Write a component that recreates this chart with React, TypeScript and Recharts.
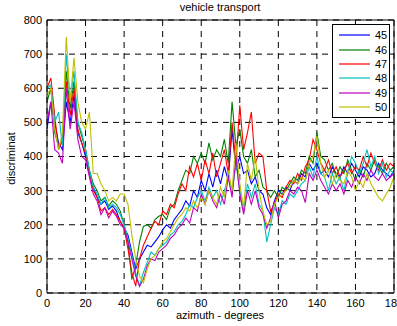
import React from 'react';
import { LineChart, Line, XAxis, YAxis, CartesianGrid, Legend } from 'recharts';

// azimuth in degrees, sampled every 2 degrees
const azimuth = [
  0, 2, 4, 6, 8, 10, 12, 14, 16, 18,
  20, 22, 24, 26, 28, 30, 32, 34, 36, 38,
  40, 42, 44, 46, 48, 50, 52, 54, 56, 58,
  60, 62, 64, 66, 68, 70, 72, 74, 76, 78,
  80, 82, 84, 86, 88, 90, 92, 94, 96, 98,
  100, 102, 104, 106, 108, 110, 112, 114, 116, 118,
  120, 122, 124, 126, 128, 130, 132, 134, 136, 138,
  140, 142, 144, 146, 148, 150, 152, 154, 156, 158,
  160, 162, 164, 166, 168, 170, 172, 174, 176, 178,
  180,
];

const s45 = [
  480, 560, 500, 440, 420, 560, 500, 580, 470, 440,
  400, 350, 310, 280, 260, 270, 245, 255, 240, 210,
  190, 170, 120, 70, 100, 120, 140, 135, 150, 165,
  185, 200, 190, 215, 230, 245, 270, 255, 300, 280,
  330, 300, 350, 310, 360, 320, 370, 330, 480, 360,
  400, 350, 360, 320, 340, 300, 290, 250, 230, 270,
  300, 290, 310, 300, 330, 320, 350, 340, 380, 360,
  380, 350, 360, 340, 370, 350, 340, 370, 350, 380,
  360, 340, 370, 360, 340, 350, 380, 360, 350, 340,
  360,
];

const s46 = [
  560, 600, 470, 430, 440, 650, 540, 620, 500, 460,
  420, 360, 320, 300, 270, 280, 255, 270, 260, 240,
  200, 150, 40, 80, 150, 195, 200, 190, 215, 225,
  230, 215, 250, 260, 300, 330, 360, 350, 400, 380,
  410, 380, 440, 390, 420, 400, 450, 380, 560, 430,
  480, 400, 380, 420, 340, 360, 310, 300, 280, 300,
  280, 310, 300, 320, 340, 330, 360, 350, 400, 380,
  470, 400, 390, 360, 380, 340, 370, 350, 390, 360,
  330, 360, 340, 380, 360, 390, 370, 350, 380, 360,
  370,
];

const s47 = [
  600, 630, 520, 420, 450, 620, 520, 600, 480, 440,
  410, 350, 300, 280, 240, 250, 230, 245, 230, 210,
  190, 130, 60, 20, 100, 140, 165, 190, 210, 200,
  240, 230, 260, 250, 290, 320, 300, 370, 340, 380,
  330, 390, 350, 410, 340, 380, 420, 350, 500, 380,
  550, 420, 470, 530, 380, 410, 400, 300, 240, 260,
  290, 280, 310, 330, 320, 350, 330, 370, 390, 450,
  420, 380, 360, 390, 350, 370, 340, 360, 380, 350,
  370, 360, 400, 370, 410, 380, 360, 390, 360, 380,
  370,
];

const s48 = [
  600, 610, 500, 530, 430, 700, 560, 650, 500, 470,
  420, 360, 310, 290, 260, 280, 250, 260, 250, 230,
  200, 160, 110, 60, 20, 60, 90, 120, 110, 130,
  140, 150, 170, 180, 200, 210, 230, 260, 250, 280,
  300, 270, 310, 280, 300, 260, 300, 340, 290, 380,
  300, 240, 320, 280, 320, 260, 240, 150, 200, 250,
  230, 270, 260, 290, 280, 300, 320, 330, 370, 340,
  400, 350, 340, 300, 350, 320, 340, 300, 350, 400,
  380, 350, 380, 420, 370, 400, 350, 380, 340, 360,
  350,
];

const s49 = [
  500, 560, 420, 410, 380, 600, 480, 560, 450, 400,
  390, 340, 290, 270, 230, 250, 220, 240, 225, 200,
  190, 150, 100, 50, 20, 40, 80, 100, 95, 120,
  130, 140, 160, 170, 190, 200, 220, 205, 250, 240,
  290, 260, 300, 270, 250, 290, 260, 340, 280, 400,
  290, 230, 300, 260, 300, 250, 230, 190, 220, 270,
  220, 260, 270, 300, 290, 310, 300, 265, 350, 330,
  360, 330, 310, 290, 320, 300, 320, 290, 330, 310,
  340, 320, 350, 330, 360, 340, 330, 350, 330, 340,
  350,
];

const s50 = [
  580, 600, 480, 420, 470, 750, 560, 690, 560, 500,
  480, 530, 350, 350, 320, 300, 270, 280, 270, 290,
  290, 260, 170, 100, 50, 30, 70, 100, 110, 130,
  150, 160, 180, 200, 220, 230, 250, 240, 270, 250,
  280, 260, 300, 280, 260, 310, 280, 360, 300, 440,
  320, 250, 380, 330, 400, 300, 240, 200, 210, 260,
  280, 290, 300, 310, 330, 320, 340, 330, 380, 400,
  460, 380, 340, 360, 320, 350, 330, 320, 360, 340,
  300, 330, 310, 350, 320, 300, 280, 270, 290, 310,
  340,
];

const seriesNames = ['45', '46', '47', '48', '49', '50'];
const seriesValues = [s45, s46, s47, s48, s49, s50];
const seriesColors = ['#0000ff', '#008000', '#ff0000', '#00bfbf', '#bf00bf', '#bfbf00'];

const xTicks = [0, 20, 40, 60, 80, 100, 120, 140, 160, 180];
const yTicks = [0, 100, 200, 300, 400, 500, 600, 700, 800];

const data = azimuth.map((az, i) => {
  const row: Record<string, number> = { az };
  seriesNames.forEach((name, k) => {
    row[name] = seriesValues[k][i];
  });
  return row;
});

const font = '"Liberation Sans", Arial, Helvetica, sans-serif';

// boxed legend, one row per series, in plotting order
const LegendBox = () => (
  <div
    style={{
      background: '#fff',
      border: '1px solid #000',
      width: 56,
      padding: '3px 0',
      fontFamily: font,
      fontSize: 11,
      color: '#000',
    }}
  >
    {seriesNames.map((name, k) => (
      <div key={name} style={{ display: 'flex', alignItems: 'center', height: 14.4 }}>
        <svg width={31} height={4} style={{ marginLeft: 6, display: 'block' }}>
          <line x1={0} y1={2} x2={31} y2={2} stroke={seriesColors[k]} strokeWidth={2} strokeOpacity={0.6} />
        </svg>
        <span style={{ marginLeft: 5, lineHeight: '12px' }}>{name}</span>
      </div>
    ))}
  </div>
);

export default function App() {
  return (
    <div style={{ position: 'absolute', left: 0, top: 0, width: 397, height: 326, background: '#fff' }}>
      <LineChart
        width={397}
        height={326}
        data={data}
        margin={{ top: 20, right: 3, bottom: 3, left: 7 }}
      >
        <CartesianGrid stroke="#000" strokeDasharray="6 5" strokeWidth={1} />
        <XAxis
          dataKey="az"
          type="number"
          domain={[0, 180]}
          ticks={xTicks}
          interval={0}
          height={30}
          tickLine={false}
          tickSize={0}
          tickMargin={6}
          axisLine={{ stroke: '#000' }}
          tick={{ fill: '#000', fontSize: 11, fontFamily: font }}
        />
        <XAxis
          xAxisId="bottomTicks"
          type="number"
          domain={[0, 180]}
          ticks={xTicks}
          mirror
          tick={false}
          tickSize={5}
          axisLine={false}
          tickLine={{ stroke: '#000' }}
        />
        <XAxis
          xAxisId="topFrame"
          orientation="top"
          type="number"
          domain={[0, 180]}
          ticks={xTicks}
          mirror
          tick={false}
          tickSize={5}
          axisLine={{ stroke: '#000' }}
          tickLine={{ stroke: '#000' }}
        />
        <YAxis
          type="number"
          domain={[0, 800]}
          ticks={yTicks}
          interval={0}
          width={40}
          tickLine={false}
          tickSize={0}
          tickMargin={5}
          axisLine={{ stroke: '#000' }}
          tick={{ fill: '#000', fontSize: 11, fontFamily: font }}
        />
        <YAxis
          yAxisId="leftTicks"
          type="number"
          domain={[0, 800]}
          ticks={yTicks}
          mirror
          tick={false}
          tickSize={5}
          axisLine={false}
          tickLine={{ stroke: '#000' }}
        />
        <YAxis
          yAxisId="rightFrame"
          orientation="right"
          type="number"
          domain={[0, 800]}
          ticks={yTicks}
          mirror
          tick={false}
          tickSize={5}
          axisLine={{ stroke: '#000' }}
          tickLine={{ stroke: '#000' }}
        />
        {seriesNames.map((name, k) => (
          <Line
            key={name}
            dataKey={name}
            name={name}
            type="linear"
            stroke={seriesColors[k]}
            strokeWidth={1.1}
            dot={false}
            isAnimationActive={false}
          />
        ))}
        <Legend
          layout="vertical"
          align="center"
          verticalAlign="middle"
          content={<LegendBox />}
          wrapperStyle={{ left: 332, top: 24, width: 58 }}
        />
      </LineChart>
      <div
        style={{
          position: 'absolute',
          left: 120,
          width: 200,
          top: 1,
          textAlign: 'center',
          fontFamily: font,
          fontSize: 11,
          lineHeight: '13px',
        }}
      >
        vehicle transport
      </div>
      <div
        style={{
          position: 'absolute',
          left: 120,
          width: 200,
          top: 309,
          textAlign: 'center',
          fontFamily: font,
          fontSize: 11,
          lineHeight: '13px',
        }}
      >
        azimuth - degrees
      </div>
      <div
        style={{
          position: 'absolute',
          left: 11 - 50,
          top: 158 - 6.5,
          width: 100,
          textAlign: 'center',
          fontFamily: font,
          fontSize: 11,
          lineHeight: '13px',
          transform: 'rotate(-90deg)',
        }}
      >
        discriminat
      </div>
    </div>
  );
}
